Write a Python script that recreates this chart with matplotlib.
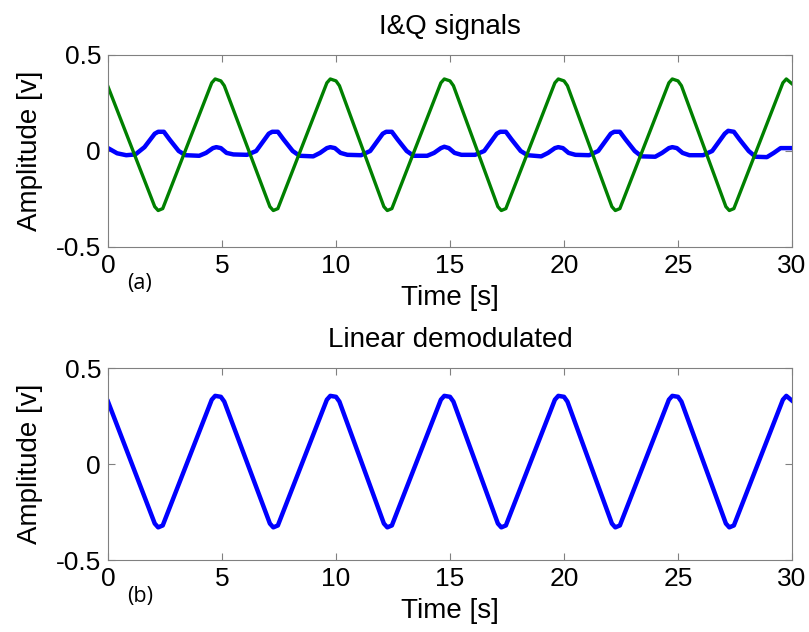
import matplotlib.pyplot as plt
import numpy as np

# top panel: I (green) and Q (blue) signals, vertices
t_green = [0.0, 2.05, 2.2, 2.4, 4.55, 4.7, 4.95, 5.1,
           7.1, 7.25, 7.45, 9.6, 9.75, 10.0, 10.15,
           12.1, 12.25, 12.45, 14.6, 14.75, 15.0, 15.15,
           17.1, 17.25, 17.45, 19.6, 19.75, 20.0, 20.15,
           22.1, 22.25, 22.45, 24.6, 24.75, 25.0, 25.15,
           27.1, 27.25, 27.45, 29.6, 29.75, 30.0]
v_green = [0.335, -0.29, -0.31, -0.30, 0.355, 0.375, 0.365, 0.34,
           -0.29, -0.31, -0.30, 0.355, 0.375, 0.365, 0.34,
           -0.29, -0.31, -0.30, 0.355, 0.375, 0.365, 0.34,
           -0.29, -0.31, -0.30, 0.355, 0.375, 0.365, 0.34,
           -0.29, -0.31, -0.30, 0.355, 0.375, 0.365, 0.34,
           -0.29, -0.31, -0.30, 0.355, 0.375, 0.35]

t_blue = [0.0, 0.4, 0.8, 1.2, 1.6, 2.05, 2.2, 2.45, 2.7, 3.1, 3.4, 4.0, 4.3, 4.6, 4.75, 4.95, 5.2, 5.5,
          6.1, 6.5, 7.05, 7.2, 7.45, 7.7, 8.1, 8.4, 9.0, 9.3, 9.6, 9.75, 9.95, 10.2, 10.5,
          11.1, 11.5, 12.05, 12.2, 12.45, 12.7, 13.1, 13.4, 14.0, 14.3, 14.6, 14.75, 14.95, 15.2, 15.5,
          16.1, 16.5, 17.05, 17.2, 17.45, 17.7, 18.1, 18.4, 19.0, 19.3, 19.6, 19.75, 19.95, 20.2, 20.5,
          21.1, 21.5, 22.05, 22.2, 22.45, 22.7, 23.1, 23.4, 24.0, 24.3, 24.6, 24.75, 24.95, 25.2, 25.5,
          26.1, 26.5, 27.05, 27.2, 27.45, 27.7, 28.1, 28.4, 28.9, 29.2, 29.5, 30.0]
v_blue = [0.015, -0.012, -0.022, -0.018, 0.02, 0.09, 0.1, 0.1, 0.06, 0.0, -0.022, -0.025, -0.01, 0.015, 0.02, 0.015, -0.01, -0.018,
          -0.02, 0.0, 0.09, 0.1, 0.1, 0.06, 0.0, -0.025, -0.028, -0.01, 0.015, 0.02, 0.015, -0.01, -0.02,
          -0.022, 0.0, 0.09, 0.1, 0.1, 0.06, 0.0, -0.025, -0.025, -0.01, 0.015, 0.022, 0.015, -0.01, -0.02,
          -0.02, 0.0, 0.09, 0.1, 0.1, 0.06, 0.0, -0.022, -0.028, -0.01, 0.015, 0.02, 0.015, -0.01, -0.02,
          -0.022, 0.0, 0.09, 0.1, 0.1, 0.06, 0.0, -0.028, -0.03, -0.01, 0.015, 0.02, 0.015, -0.01, -0.022,
          -0.022, 0.0, 0.09, 0.105, 0.1, 0.06, 0.0, -0.03, -0.032, -0.01, 0.015, 0.015]

# bottom panel: linear demodulated
t_demod = [0.0, 2.05, 2.2, 2.4, 4.55, 4.7, 4.95, 5.1,
           7.1, 7.25, 7.45, 9.6, 9.75, 10.0, 10.15,
           12.1, 12.25, 12.45, 14.6, 14.75, 15.0, 15.15,
           17.1, 17.25, 17.45, 19.6, 19.75, 20.0, 20.15,
           22.1, 22.25, 22.45, 24.6, 24.75, 25.0, 25.15,
           27.1, 27.25, 27.45, 29.6, 29.75, 30.0]
v_demod = [0.325, -0.31, -0.33, -0.32, 0.335, 0.355, 0.35, 0.325,
           -0.31, -0.33, -0.32, 0.335, 0.355, 0.35, 0.325,
           -0.31, -0.33, -0.32, 0.335, 0.355, 0.35, 0.325,
           -0.31, -0.33, -0.32, 0.335, 0.355, 0.35, 0.325,
           -0.31, -0.33, -0.32, 0.335, 0.355, 0.35, 0.325,
           -0.31, -0.33, -0.32, 0.335, 0.355, 0.33]

xticks = [0, 5, 10, 15, 20, 25, 30]
yticks = [-0.5, 0, 0.5]
ytick_labels = ['-0.5', '0', '0.5']

plt.rcParams['font.family'] = ['Liberation Sans', 'DejaVu Sans']

fig = plt.figure(figsize=(8.09, 6.32), dpi=100)
ax1 = fig.add_axes([0.1335, 0.6092, 0.8455, 0.3038])
ax2 = fig.add_axes([0.1335, 0.1139, 0.8455, 0.3038])

ax1.plot(t_blue, v_blue, color='#0000ff', linewidth=3.2)
ax1.plot(t_green, v_green, color='#008000', linewidth=2.4)
ax2.plot(t_demod, v_demod, color='#0000ff', linewidth=3.2)

for ax, title, tag in [(ax1, 'I&Q signals', '(a)'), (ax2, 'Linear demodulated', '(b)')]:
    ax.set_xlim(0, 30)
    ax.set_ylim(-0.5, 0.5)
    ax.set_xticks(xticks)
    ax.set_yticks(yticks)
    ax.set_yticklabels(ytick_labels)
    ax.tick_params(direction='in', top=True, right=True, length=5, width=0.8,
                   color='#808080', labelsize=19, pad=5)
    for s in ax.spines.values():
        s.set_color('#808080')
        s.set_linewidth(0.8)
    ax.set_title(title, fontsize=20, pad=15)
    ax.set_xlabel('Time [s]', fontsize=20, labelpad=5)
    ax.set_ylabel('Amplitude [v]', fontsize=20, labelpad=9)
    ax.text(0.85, -0.69, tag, fontsize=15.5, family=['Open Sans', 'DejaVu Sans'],
            ha='left', va='center', transform=ax.transData, clip_on=False)

fig.savefig('out.png', dpi=100)
